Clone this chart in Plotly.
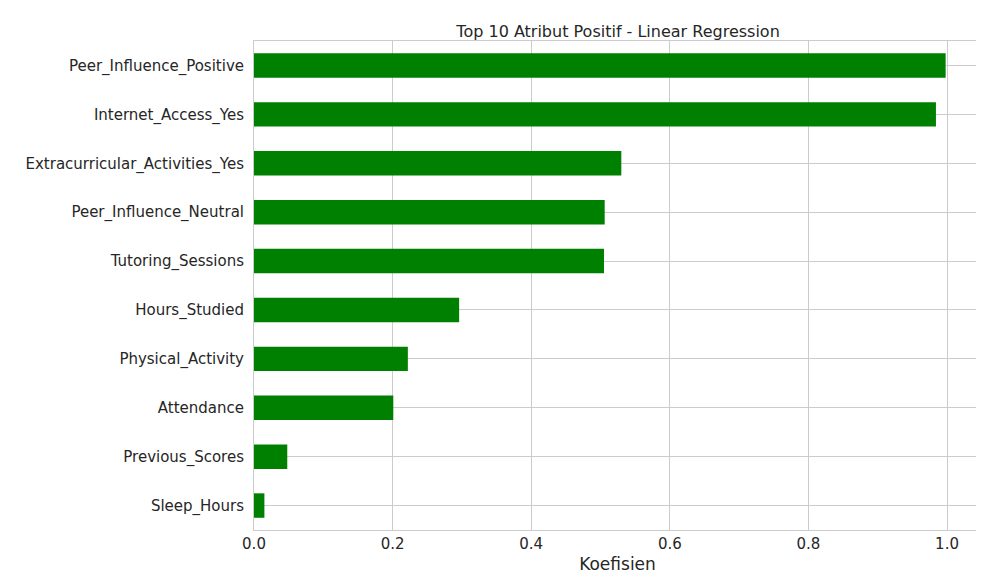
import plotly.graph_objects as go

features = ["Sleep_Hours", "Previous_Scores", "Attendance", "Physical_Activity",
            "Hours_Studied", "Tutoring_Sessions", "Peer_Influence_Neutral",
            "Extracurricular_Activities_Yes", "Internet_Access_Yes", "Peer_Influence_Positive"]
coefs = [0.015, 0.048, 0.201, 0.222, 0.296, 0.505, 0.506, 0.530, 0.984, 0.998]

fig = go.Figure(go.Bar(x=coefs, y=features, orientation="h", width=0.5,
                       marker=dict(color="green", line=dict(width=0))))

fig.update_layout(
    width=984, height=584,
    margin=dict(l=246, r=11, t=33, b=62, autoexpand=False),
    plot_bgcolor="white", paper_bgcolor="white",
    font=dict(family="DejaVu Sans", size=15, color="#262626"),
    title=dict(text="Top 10 Atribut Positif - Linear Regression", x=0.62, xanchor="center",
               y=0.97, font=dict(size=16)),
    showlegend=False,
)
fig.update_xaxes(range=[0, 1.049], tickvals=[0, 0.2, 0.4, 0.6, 0.8, 1.0],
                 ticktext=["0.0", "0.2", "0.4", "0.6", "0.8", "1.0"],
                 showgrid=True, gridcolor="#cccccc", gridwidth=1, zeroline=False,
                 showline=True, linecolor="#cccccc", mirror=True, automargin=False,
                 title=dict(text="Koefisien", standoff=6, font=dict(size=17)), ticks="")
fig.update_yaxes(range=[-0.5, 9.5], showgrid=True, gridcolor="#cccccc", gridwidth=1,
                 showline=True, linecolor="#cccccc", mirror=True, ticks="",
                 automargin=False, ticklabelstandoff=6)

fig.write_html("out.html")
